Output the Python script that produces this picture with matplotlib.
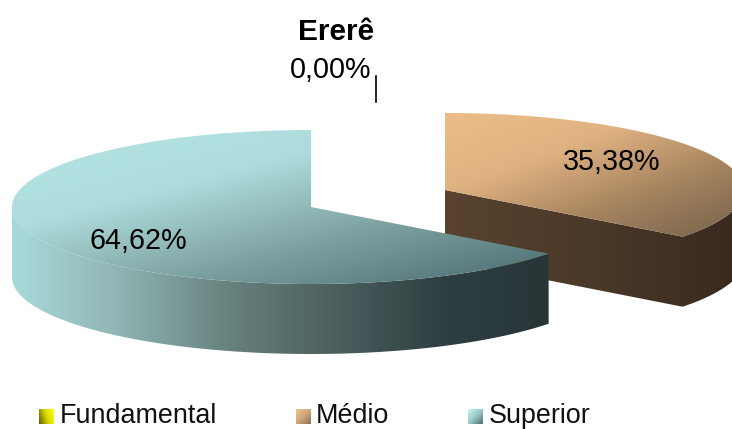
import numpy as np
import matplotlib
matplotlib.use('Agg')
import matplotlib.pyplot as plt
from matplotlib.colors import LinearSegmentedColormap
from matplotlib.patches import Polygon

plt.rcParams['font.family'] = ['Liberation Sans', 'DejaVu Sans']

title = 'Ererê'
categories = ['Fundamental', 'Médio', 'Superior']
values = [0.0, 35.38, 64.62]

# geometria do disco em pixels
RX, RY, DEPTH = 299, 77, 70
CENTERS = {'Médio': (445, 190), 'Superior': (311, 207)}
LABEL_POS = {'Fundamental': (331, 70), 'Médio': (612, 162), 'Superior': (138, 241)}
SWATCH_X = {'Fundamental': 39, 'Médio': 296, 'Superior': 468}
TEXT_X = {'Fundamental': 60, 'Médio': 316, 'Superior': 489}

TOP_COLORS = {
    'Médio': ['#ebbd88', '#dfb281', '#a5835f', '#75604a'],
    'Superior': ['#b6e5e5', '#aedcdc', '#7b9f9e', '#4a6b70'],
}
WALL_COLORS = {
    'Médio': ['#59432f', '#4a3828', '#38291d'],
    'Superior': ['#a9dada', '#8fb4b3', '#67827f', '#4c5f5f', '#2f3f41', '#273537'],
}
SWATCH_COLORS = {
    'Fundamental': ['#ffff00', '#d8d800', '#5c5c00'],
    'Médio': ['#f2c795', '#cfa67a', '#8a6f55'],
    'Superior': ['#c4f5f5', '#9cc9c9', '#4f6e6e'],
}

fig = plt.figure(figsize=(7.32, 4.29), dpi=100)
ax = fig.add_axes([0, 0, 1, 1])
ax.set_xlim(0, 732)
ax.set_ylim(429, 0)
ax.axis('off')


def edge(cx, cy, theta):
    # theta em radianos, a partir das 12 horas, sentido horario
    return cx + RX * np.sin(theta), cy - RY * np.cos(theta)


def fill_gradient(points, colors, direction):
    poly = Polygon(points, closed=True, fc='none', ec='none', transform=ax.transData)
    ax.add_patch(poly)
    xs = np.array([p[0] for p in points])
    ys = np.array([p[1] for p in points])
    x0, x1, y0, y1 = xs.min(), xs.max(), ys.min(), ys.max()
    gx, gy = np.meshgrid(np.linspace(0, 1, 256), np.linspace(0, 1, 256))
    img = gx * direction[0] + gy * direction[1]
    img = (img - img.min()) / (img.max() - img.min())
    cmap = LinearSegmentedColormap.from_list('g', colors)
    im = ax.imshow(img, cmap=cmap, extent=(x0, x1, y1, y0), aspect='auto',
                   interpolation='bilinear', zorder=poly.get_zorder())
    im.set_clip_path(poly)


def draw_slice(name, start, end):
    cx, cy = CENTERS[name]
    thetas = np.linspace(start, end, 200)
    rim = [edge(cx, cy, t) for t in thetas]

    if name == 'Médio':
        # corte e lateral juntos, para nao deixar emenda
        back = [edge(cx, cy, t) for t in thetas[::-1] if t >= np.pi / 2]
        wall = [(cx, cy)] + back + [(x, y + DEPTH) for x, y in back[::-1]] + [(cx, cy + DEPTH)]
        fill_gradient(wall, WALL_COLORS[name], (1, 0))
    else:
        # parte da frente do disco
        front = [t for t in thetas if np.pi / 2 <= t <= 3 * np.pi / 2]
        up = [edge(cx, cy, t) for t in front]
        down = [(x, y + DEPTH) for x, y in reversed(up)]
        fill_gradient(up + down, WALL_COLORS[name], (1, 0))

    fill_gradient([(cx, cy)] + rim, TOP_COLORS[name], (1.0, 1.1))


# fatias a partir das 12 horas, sentido horario
fractions = np.array(values) / sum(values)
angles = np.concatenate([[0], np.cumsum(fractions)]) * 2 * np.pi
slices = {c: (angles[i], angles[i + 1]) for i, c in enumerate(categories)}

draw_slice('Médio', *slices['Médio'])
draw_slice('Superior', *slices['Superior'])

ax.set_xlim(0, 732)
ax.set_ylim(429, 0)

# rotulos
for c, v in zip(categories, values):
    label = f'{v:.2f}%'.replace('.', ',')
    ax.text(*LABEL_POS[c], label, fontsize=20.7, color='black', ha='center', va='center', zorder=5)
ax.plot([376, 376], [76, 102], color='black', lw=1.2, zorder=5)

ax.text(336, 32, title, fontsize=21.5, fontweight='bold', ha='center', va='center', zorder=5)

# legenda
for c in categories:
    sx = SWATCH_X[c]
    g = np.linspace(0, 1, 64)
    img = np.add.outer(g, g)
    if c == 'Fundamental':
        img = np.add.outer(g * 0.3, 1 - g)
    ax.imshow(img, cmap=LinearSegmentedColormap.from_list('s', SWATCH_COLORS[c]),
              extent=(sx, sx + 15, 424, 409), aspect='auto', zorder=5)
    ax.text(TEXT_X[c], 423.2, c, fontsize=19.4, color='#111111', ha='left', va='baseline', zorder=5)

ax.set_xlim(0, 732)
ax.set_ylim(429, 0)
fig.savefig('out.png', dpi=100)
